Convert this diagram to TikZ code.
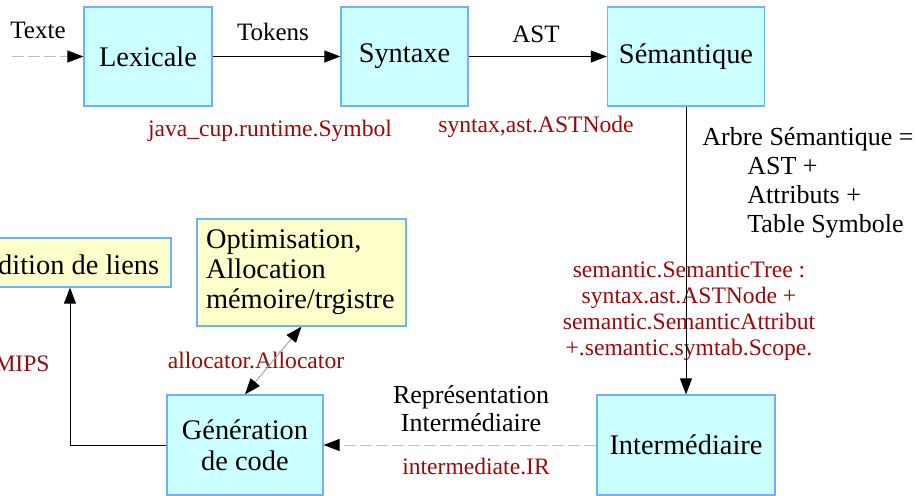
\documentclass[tikz,border=0pt]{standalone}
\usepackage{fontspec}
\setmainfont{Liberation Serif}
\usetikzlibrary{arrows.meta}
\definecolor{phasefill}{RGB}{204,255,255}
\definecolor{toolfill}{RGB}{255,255,204}
\definecolor{boxline}{RGB}{110,178,255}
\definecolor{classred}{RGB}{150,10,10}
\begin{document}
\begin{tikzpicture}[x=0.5pt,y=-0.5pt,
  phase/.style={draw=boxline,fill=phasefill,line width=0.6pt,inner sep=0pt,align=center,
    font=\fontsize{14.2}{15.5}\selectfont},
  tool/.style={draw=boxline,fill=toolfill,line width=0.6pt,inner sep=0pt,
    font=\fontsize{14.2}{15}\selectfont},
  lbl/.style={inner sep=0pt,font=\fontsize{12.5}{14}\selectfont},
  cls/.style={inner sep=0pt,text=classred,align=center,font=\fontsize{11.8}{13}\selectfont},
  head/.tip={Triangle[length=8pt,width=6pt,color=black]},
  flow/.style={-head,line width=0.5pt},
  weak/.style={-head,line width=0.5pt,draw=black!25,dash pattern=on 6pt off 2pt}]
\clip (0,0) rectangle (917,495);

\node[phase,minimum width=64pt,minimum height=49.5pt] (lex) at (148,56.5) {Lexicale};
\node[phase,minimum width=63.5pt,minimum height=49.5pt] (syn) at (404.5,56.5) {Syntaxe};
\node[phase,minimum width=78.5pt,minimum height=49.5pt] (sem) at (686,56.5) {Sémantique};
\node[phase,minimum width=89pt,minimum height=50pt] (inter) at (686,445) {Intermédiaire};
\node[phase,minimum width=78pt,minimum height=50pt] (gen) at (245,445) {Génération\\de code};
\node[tool,minimum width=101pt,minimum height=24.5pt] (edl) at (70,262.5) {Édition de liens};
\node[tool,minimum height=53.5pt,inner xsep=4.5pt,text width=95.5pt,align=left] (opt)
  at (301.5,272.5) {Optimisation,\\Allocation\\mémoire/trgistre};

\node[lbl] (texte) at (38,30) {Texte};
\node[lbl] (tokens) at (273,32) {Tokens};
\node[lbl] (ast) at (536,34) {AST};
\node[lbl,anchor=north west,align=left,font=\fontsize{13}{14.5}\selectfont] (arbre) at (702,127)
  {Arbre Sémantique =\\\hspace*{22.5pt}AST +\\\hspace*{22.5pt}Attributs +\\\hspace*{22.5pt}Table Symbole};
\node[lbl,anchor=north,align=center,font=\fontsize{13}{14}\selectfont] (repr) at (471,385)
  {Représentation\\Intermédiaire};

\node[cls] (symbol) at (270,131) {java\_cup.runtime.Symbol};
\node[cls] (astnode) at (536,127) {syntax,ast.ASTNode};
\node[cls,anchor=north] (tree) at (689,261)
  {semantic.SemanticTree :\\syntax.ast.ASTNode +\\semantic.SemanticAttribut\\+.semantic.symtab.Scope.};
\node[cls] (alloc) at (256,360) {allocator.Allocator};
\node[cls] (irlbl) at (476,466) {intermediate.IR};
\node[cls,anchor=east] (mips) at (50,364) {MIPS};

\coordinate (src) at (12,56.5);
\draw[weak] (src) -- (lex);
\draw[flow] (lex) -- (syn);
\draw[flow] (syn) -- (sem);
\draw[flow] (sem) -- (inter);
\draw[weak] (inter) -- (gen);
\draw[head-head,line width=0.5pt,draw=black!35] (gen.north) -- (opt.south);
\draw[flow] (gen.west) -| (edl.south);
\end{tikzpicture}
\end{document}
